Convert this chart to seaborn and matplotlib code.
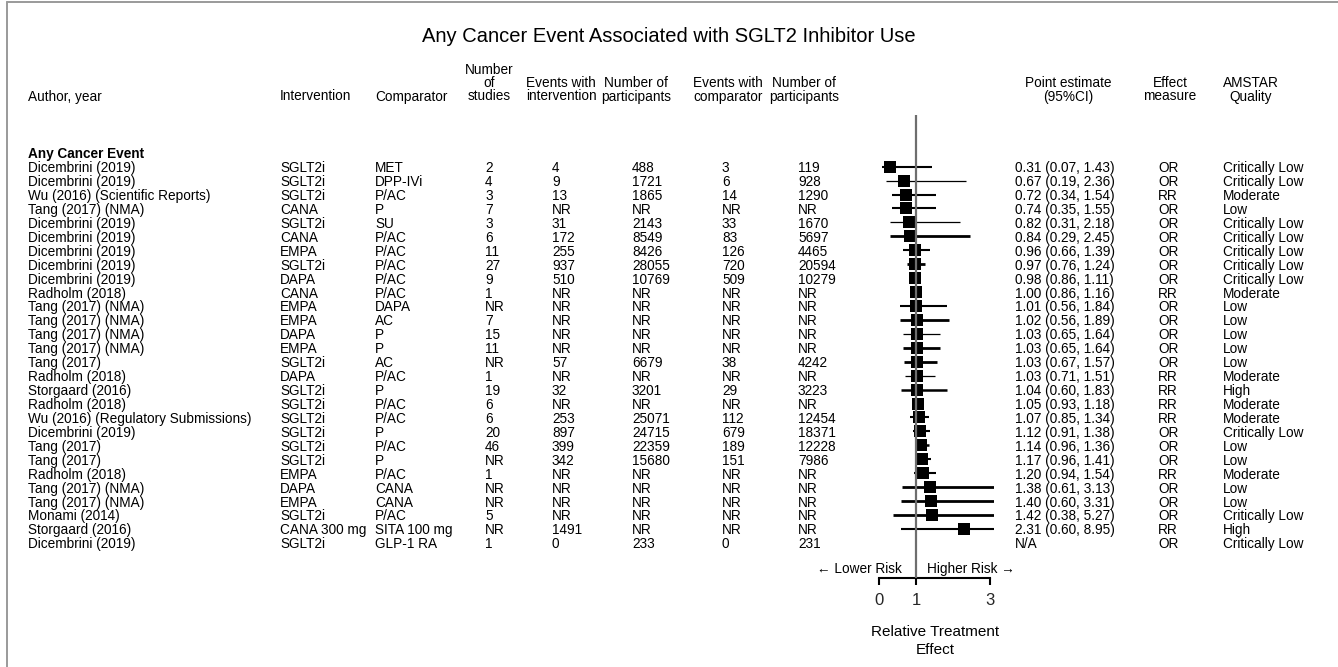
import numpy as np
import matplotlib
matplotlib.use("Agg")
import matplotlib.pyplot as plt
import matplotlib.transforms as mtransforms
from matplotlib.lines import Line2D
import seaborn as sns

# ---------------- data ----------------
title = "Any Cancer Event Associated with SGLT2 Inhibitor Use"
group_label = "Any Cancer Event"

authors = ["Dicembrini (2019)", "Dicembrini (2019)", "Wu (2016) (Scientific Reports)",
           "Tang (2017) (NMA)", "Dicembrini (2019)", "Dicembrini (2019)", "Dicembrini (2019)",
           "Dicembrini (2019)", "Dicembrini (2019)", "Radholm (2018)", "Tang (2017) (NMA)",
           "Tang (2017) (NMA)", "Tang (2017) (NMA)", "Tang (2017) (NMA)", "Tang (2017)",
           "Radholm (2018)", "Storgaard (2016)", "Radholm (2018)",
           "Wu (2016) (Regulatory Submissions)", "Dicembrini (2019)", "Tang (2017)",
           "Tang (2017)", "Radholm (2018)", "Tang (2017) (NMA)", "Tang (2017) (NMA)",
           "Monami (2014)", "Storgaard (2016)", "Dicembrini (2019)"]
interventions = ["SGLT2i", "SGLT2i", "SGLT2i", "CANA", "SGLT2i", "CANA", "EMPA", "SGLT2i",
                 "DAPA", "CANA", "EMPA", "EMPA", "DAPA", "EMPA", "SGLT2i", "DAPA", "SGLT2i",
                 "SGLT2i", "SGLT2i", "SGLT2i", "SGLT2i", "SGLT2i", "EMPA", "DAPA", "EMPA",
                 "SGLT2i", "CANA 300 mg", "SGLT2i"]
comparators = ["MET", "DPP-IVi", "P/AC", "P", "SU", "P/AC", "P/AC", "P/AC", "P/AC", "P/AC",
               "DAPA", "AC", "P", "P", "AC", "P/AC", "P", "P/AC", "P/AC", "P", "P/AC", "P",
               "P/AC", "CANA", "CANA", "P/AC", "SITA 100 mg", "GLP-1 RA"]
n_studies = ["2", "4", "3", "7", "3", "6", "11", "27", "9", "1", "NR", "7", "15", "11", "NR",
             "1", "19", "6", "6", "20", "46", "NR", "1", "NR", "NR", "5", "NR", "1"]
events_int = ["4", "9", "13", "NR", "31", "172", "255", "937", "510", "NR", "NR", "NR", "NR",
              "NR", "57", "NR", "32", "NR", "253", "897", "399", "342", "NR", "NR", "NR",
              "NR", "1491", "0"]
n_int = ["488", "1721", "1865", "NR", "2143", "8549", "8426", "28055", "10769", "NR", "NR",
         "NR", "NR", "NR", "6679", "NR", "3201", "NR", "25071", "24715", "22359", "15680",
         "NR", "NR", "NR", "NR", "NR", "233"]
events_comp = ["3", "6", "14", "NR", "33", "83", "126", "720", "509", "NR", "NR", "NR", "NR",
               "NR", "38", "NR", "29", "NR", "112", "679", "189", "151", "NR", "NR", "NR",
               "NR", "NR", "0"]
n_comp = ["119", "928", "1290", "NR", "1670", "5697", "4465", "20594", "10279", "NR", "NR",
          "NR", "NR", "NR", "4242", "NR", "3223", "NR", "12454", "18371", "12228", "7986",
          "NR", "NR", "NR", "NR", "NR", "231"]
estimate = [0.31, 0.67, 0.72, 0.74, 0.82, 0.84, 0.96, 0.97, 0.98, 1.00, 1.01, 1.02, 1.03,
            1.03, 1.03, 1.03, 1.04, 1.05, 1.07, 1.12, 1.14, 1.17, 1.20, 1.38, 1.40, 1.42,
            2.31, np.nan]
ci_low = [0.07, 0.19, 0.34, 0.35, 0.31, 0.29, 0.66, 0.76, 0.86, 0.86, 0.56, 0.56, 0.65,
          0.65, 0.67, 0.71, 0.60, 0.93, 0.85, 0.91, 0.96, 0.96, 0.94, 0.61, 0.60, 0.38,
          0.60, np.nan]
ci_high = [1.43, 2.36, 1.54, 1.55, 2.18, 2.45, 1.39, 1.24, 1.11, 1.16, 1.84, 1.89, 1.64,
           1.64, 1.57, 1.51, 1.83, 1.18, 1.34, 1.38, 1.36, 1.41, 1.54, 3.13, 3.31, 5.27,
           8.95, np.nan]
effect_measure = ["OR", "OR", "RR", "OR", "OR", "OR", "OR", "OR", "OR", "RR", "OR", "OR",
                  "OR", "OR", "OR", "RR", "RR", "RR", "RR", "OR", "OR", "OR", "RR", "OR",
                  "OR", "OR", "RR", "OR"]
amstar = ["Critically Low", "Critically Low", "Moderate", "Low", "Critically Low",
          "Critically Low", "Critically Low", "Critically Low", "Critically Low", "Moderate",
          "Low", "Low", "Low", "Low", "Low", "Moderate", "High", "Moderate", "Moderate",
          "Critically Low", "Low", "Low", "Moderate", "Low", "Low", "Critically Low", "High",
          "Critically Low"]
x_ticks = [0, 1, 3]
lower_txt = "\u2190 Lower Risk"
higher_txt = "Higher Risk \u2192"

# style: CI line widths (pt)
ci_lw = [1.5, 0.9, 1.5, 1.5, 0.9, 2.0, 1.5, 2.0, 1.5, 1.5, 1.5, 2.0, 0.9, 2.0, 2.0, 0.9,
         1.8, 1.5, 1.5, 1.5, 1.8, 1.5, 1.5, 2.0, 2.0, 2.0, 1.5, 1.5]

# ---------------- layout ----------------
sns.set_theme(style="white")
plt.rcParams["font.family"] = ["Liberation Sans", "DejaVu Sans"]
plt.rcParams["text.color"] = "black"

W, H = 1338, 667
fig = plt.figure(figsize=(W / 100, H / 100), dpi=100)
fig.patch.set_facecolor("white")

# forest axes pixel geometry
x0_px, unit_px = 879.0, 37.0
xlim = (-0.3, 3.12)
ax_left = x0_px + xlim[0] * unit_px
ax_right = x0_px + xlim[1] * unit_px
ax_top_px, ax_bot_px = 115.0, 578.0
row0_px, row_step = 166.7, 13.93
ax = fig.add_axes([ax_left / W, 1 - ax_bot_px / H, (ax_right - ax_left) / W,
                   (ax_bot_px - ax_top_px) / H])
ax.set_facecolor("none")
ax.set_xlim(*xlim)
ax.set_ylim((ax_bot_px - row0_px) / row_step, (ax_top_px - row0_px) / row_step)

rows = np.arange(len(authors))
est = np.array(estimate, dtype=float)
lo = np.array(ci_low, dtype=float)
hi = np.array(ci_high, dtype=float)
ok = ~np.isnan(est)

ax.hlines(rows[ok], lo[ok], hi[ok], colors="black", linewidths=np.array(ci_lw)[ok], zorder=2)
sns.scatterplot(x=est[ok], y=rows[ok], marker="s", s=76, color="black", linewidth=0,
                ax=ax, legend=False, zorder=3)
ax.axvline(1, color="#6e6e6e", lw=1.6, zorder=4)

ax.set_xlabel("")
ax.set_ylabel("")
ax.set_yticks([])
for s in ["top", "right", "left"]:
    ax.spines[s].set_visible(False)
ax.spines["bottom"].set_bounds(0, 3)
ax.spines["bottom"].set_linewidth(1.5)
ax.spines["bottom"].set_color("black")
ax.set_xticks(x_ticks)
ax.set_xticklabels([str(t) for t in x_ticks])
ax.tick_params(axis="x", direction="out", length=5, width=1.5, color="black",
               labelsize=12, pad=6, bottom=True)

# text in pixel coordinates
fs = 9.8
trans = mtransforms.blended_transform_factory(fig.transFigure, ax.transData)


def ftext(xp, yp, s, **kw):
    fig.text(xp / W, 1 - yp / H, s, **kw)


ftext(669, 37, title, ha="center", va="center", fontsize=14.5)

# headers
header_last_y = 95.0
hdr_step = 13.5
headers = [
    (28, ["Author, year"], "left"),
    (280, ["Intervention"], "left"),
    (375, ["Comparator"], "left"),
    (489, ["Number", "of", "studies"], "center"),
    (561, ["Events with", "intervention"], "center"),
    (636, ["Number of", "participants"], "center"),
    (728, ["Events with", "comparator"], "center"),
    (804, ["Number of", "participants"], "center"),
    (1068, ["Point estimate", "(95%CI)"], "center"),
    (1170, ["Effect", "measure"], "center"),
    (1251, ["AMSTAR", "Quality"], "center"),
]
for xp, lines, ha in headers:
    n = len(lines)
    for k, line in enumerate(lines):
        ftext(xp, header_last_y - (n - 1 - k) * hdr_step, line, ha=ha,
              va="center_baseline", fontsize=fs)

ax.text(28 / W, -1, group_label, transform=trans, ha="left", va="center_baseline",
        fontsize=fs, fontweight="bold")

point_labels = [f"{e:.2f} ({l:.2f}, {h:.2f})" if not np.isnan(e) else "N/A"
                for e, l, h in zip(est, lo, hi)]
columns = [(28, authors), (280, interventions), (375, comparators), (485, n_studies),
           (552, events_int), (632, n_int), (722, events_comp), (798, n_comp),
           (1015, point_labels), (1158, effect_measure), (1223, amstar)]
for xp, vals in columns:
    for i, v in enumerate(vals):
        ax.text(xp / W, i, v, transform=trans, ha="left", va="center_baseline", fontsize=fs)

# risk direction labels and axis title
ry = (567.5 - row0_px) / row_step
ax.text(0.62, ry, lower_txt, ha="right", va="center_baseline", fontsize=fs, clip_on=False)
ax.text(1.30, ry, higher_txt, ha="left", va="center_baseline", fontsize=fs, clip_on=False)
xc = (935 - x0_px) / unit_px
tx = mtransforms.blended_transform_factory(ax.transData, fig.transFigure)
ax.text(xc, 1 - 631 / H, "Relative Treatment", transform=tx, ha="center",
        va="center_baseline", fontsize=11)
ax.text(xc, 1 - 648 / H, "Effect", transform=tx, ha="center", va="center_baseline",
        fontsize=11)

# outer frame (left and top edges)
fig.add_artist(Line2D([7 / W, 7 / W], [0, 1 - 2 / H], transform=fig.transFigure,
                      color="#9a9a9a", lw=1.4))
fig.add_artist(Line2D([7 / W, 1], [1 - 2 / H, 1 - 2 / H], transform=fig.transFigure,
                      color="#9a9a9a", lw=1.4))

fig.savefig("out.png", dpi=100, facecolor="white")
